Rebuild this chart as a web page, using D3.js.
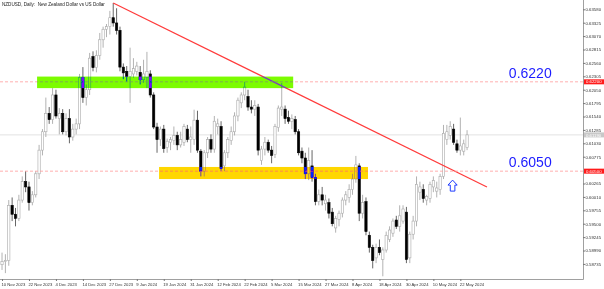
<!DOCTYPE html>
<html>
<head>
<meta charset="utf-8">
<script src="https://cdnjs.cloudflare.com/ajax/libs/d3/7.8.5/d3.min.js"></script>
<style>
  html, body { margin: 0; padding: 0; background: #fff; }
  svg { display: block; }
</style>
</head>
<body>
<svg id="chart" width="604" height="289"></svg>
<script>
// daily bars, NZDUSD
var dates = [
  "2023-11-10","2023-11-13","2023-11-14","2023-11-15","2023-11-16","2023-11-17","2023-11-20","2023-11-21","2023-11-22","2023-11-23",
  "2023-11-24","2023-11-27","2023-11-28","2023-11-29","2023-11-30","2023-12-01","2023-12-04","2023-12-05","2023-12-06","2023-12-07",
  "2023-12-08","2023-12-11","2023-12-12","2023-12-13","2023-12-14","2023-12-15","2023-12-18","2023-12-19","2023-12-20","2023-12-21",
  "2023-12-22","2023-12-26","2023-12-27","2023-12-28","2023-12-29","2024-01-02","2024-01-03","2024-01-04","2024-01-05","2024-01-08",
  "2024-01-09","2024-01-10","2024-01-11","2024-01-12","2024-01-15","2024-01-16","2024-01-17","2024-01-18","2024-01-19","2024-01-22",
  "2024-01-23","2024-01-24","2024-01-25","2024-01-26","2024-01-29","2024-01-30","2024-01-31","2024-02-01","2024-02-02","2024-02-05",
  "2024-02-06","2024-02-07","2024-02-08","2024-02-09","2024-02-12","2024-02-13","2024-02-14","2024-02-15","2024-02-16","2024-02-19",
  "2024-02-20","2024-02-21","2024-02-22","2024-02-23","2024-02-26","2024-02-27","2024-02-28","2024-02-29","2024-03-01","2024-03-04",
  "2024-03-05","2024-03-06","2024-03-07","2024-03-08","2024-03-11","2024-03-12","2024-03-13","2024-03-14","2024-03-15","2024-03-18",
  "2024-03-19","2024-03-20","2024-03-21","2024-03-22","2024-03-25","2024-03-26","2024-03-27","2024-03-28","2024-03-29","2024-04-01",
  "2024-04-02","2024-04-03","2024-04-04","2024-04-05","2024-04-08","2024-04-09","2024-04-10","2024-04-11","2024-04-12","2024-04-15",
  "2024-04-16","2024-04-17","2024-04-18","2024-04-19","2024-04-22","2024-04-23","2024-04-24","2024-04-25","2024-04-26","2024-04-29",
  "2024-04-30","2024-05-01","2024-05-02","2024-05-03","2024-05-06","2024-05-07","2024-05-08","2024-05-09","2024-05-10","2024-05-13",
  "2024-05-14","2024-05-15","2024-05-16","2024-05-17","2024-05-20","2024-05-21","2024-05-22","2024-05-23","2024-05-24"
];

var open = [
  .5872,.5878,.5880,.5985,.5968,.5960,.5995,.6030,.6020,.5990,
  .6005,.6045,.6090,.6125,.6160,.6148,.6195,.6150,.6160,.6125,
  .6150,.6115,.6130,.6140,.6228,.6190,.6205,.6268,.6247,.6270,
  .6300,.6320,.6325,.6342,.6332,.6318,.6248,.6240,.6230,.6235,
  .6240,.6238,.6224,.6228,.6235,.6195,.6134,.6110,.6130,.6095,
  .6105,.6108,.6118,.6100,.6105,.6130,.6110,.6110,.6147,.6088,
  .6050,.6085,.6110,.6092,.6135,.6135,.6060,.6085,.6108,.6125,
  .6155,.6180,.6195,.6192,.6172,.6168,.6172,.6070,.6092,.6105,
  .6090,.6082,.6133,.6168,.6168,.6152,.6145,.6148,.6125,.6088,
  .6075,.6045,.6060,.6038,.5992,.6005,.5988,.5990,.5972,.5942,
  .5958,.5970,.5995,.6000,.6015,.6035,.6060,.5970,.5992,.5928,
  .5905,.5885,.5905,.5882,.5900,.5920,.5932,.5957,.5945,.5955,
  .5972,.5885,.5930,.5955,.6010,.6015,.5995,.5998,.6020,.6012,
  .6015,.6040,.6110,.6118,.6130,.6102,.6090,.6088,.6095
];
var high = [
  .5895,.5892,.5995,.6000,.5980,.6005,.6040,.6050,.6030,.6012,
  .6050,.6100,.6130,.6190,.6172,.6208,.6205,.6170,.6168,.6160,
  .6168,.6140,.6150,.6235,.6248,.6215,.6275,.6278,.6280,.6313,
  .6325,.6330,.6355,.6370,.6360,.6325,.6255,.6250,.6285,.6265,
  .6258,.6250,.6262,.6277,.6242,.6200,.6142,.6135,.6138,.6112,
  .6115,.6135,.6125,.6125,.6140,.6138,.6135,.6167,.6165,.6092,
  .6090,.6115,.6120,.6155,.6150,.6145,.6090,.6115,.6135,.6162,
  .6190,.6200,.6220,.6205,.6185,.6185,.6178,.6098,.6115,.6110,
  .6098,.6140,.6175,.6218,.6175,.6165,.6158,.6155,.6130,.6095,
  .6085,.6095,.6090,.6045,.6015,.6020,.6005,.5998,.5980,.5965,
  .5975,.6000,.6012,.6025,.6045,.6079,.6065,.6005,.6000,.5935,
  .5910,.5912,.5920,.5905,.5935,.5945,.5960,.5965,.5985,.5985,
  .5982,.5935,.5965,.6040,.6030,.6025,.6005,.6030,.6040,.6030,
  .6045,.6138,.6138,.6145,.6140,.6110,.6152,.6110,.6128
];
var low = [
  .5862,.5856,.5870,.5955,.5945,.5955,.5990,.6010,.5975,.5985,
  .6000,.6035,.6080,.6115,.6140,.6140,.6150,.6120,.6120,.6118,
  .6103,.6108,.6120,.6130,.6180,.6175,.6195,.6240,.6238,.6262,
  .6285,.6305,.6310,.6325,.6310,.6240,.6225,.6220,.6180,.6228,
  .6232,.6215,.6218,.6208,.6190,.6130,.6085,.6098,.6085,.6085,
  .6090,.6100,.6090,.6095,.6098,.6105,.6085,.6100,.6085,.6040,
  .6040,.6075,.6085,.6085,.6120,.6050,.6050,.6075,.6100,.6118,
  .6145,.6170,.6185,.6165,.6160,.6155,.6080,.6062,.6080,.6085,
  .6065,.6075,.6125,.6155,.6140,.6140,.6130,.6120,.6080,.6065,
  .6035,.6033,.6030,.5985,.5985,.5985,.5975,.5960,.5945,.5933,
  .5945,.5962,.5985,.5990,.6005,.6028,.5955,.5960,.5928,.5895,
  .5865,.5875,.5890,.5850,.5895,.5915,.5925,.5940,.5935,.5950,
  .5875,.5875,.5920,.5945,.5995,.5990,.5985,.5990,.6010,.6000,
  .6005,.6035,.6100,.6110,.6100,.6085,.6080,.6080,.6090
];
var close = [
  .5878,.5880,.5985,.5968,.5960,.5995,.6030,.6020,.5990,.6005,
  .6045,.6090,.6125,.6160,.6148,.6195,.6155,.6160,.6125,.6150,
  .6115,.6130,.6140,.6228,.6190,.6205,.6265,.6247,.6270,.6300,
  .6320,.6325,.6342,.6332,.6318,.6248,.6237,.6230,.6240,.6245,
  .6250,.6224,.6235,.6240,.6195,.6134,.6110,.6130,.6093,.6107,
  .6110,.6118,.6100,.6110,.6135,.6110,.6115,.6147,.6090,.6050,
  .6085,.6110,.6092,.6145,.6140,.6055,.6085,.6110,.6125,.6155,
  .6185,.6195,.6210,.6172,.6168,.6175,.6090,.6092,.6105,.6090,
  .6080,.6135,.6170,.6172,.6150,.6145,.6150,.6125,.6085,.6075,
  .6045,.6070,.6038,.5992,.6005,.5995,.5995,.5970,.5950,.5960,
  .5970,.5995,.6005,.6015,.6035,.6062,.5970,.5990,.5935,.5905,
  .5880,.5905,.5895,.5900,.5928,.5938,.5955,.5945,.5965,.5978,
  .5882,.5930,.5955,.6025,.6020,.5998,.6002,.6025,.6032,.6018,
  .6040,.6122,.6125,.6135,.6105,.6090,.6098,.6102,.6119
];

// price axis
var priceTicks = [0.63580,0.63325,0.63070,0.62815,0.62560,0.62305,0.62050,0.61795,0.61540,0.61285,
                  0.61030,0.60775,0.60265,0.60010,0.59755,0.59500,0.59245,0.58990,0.58735];
var priceDomain = [0.58448, 0.63757];

// time axis
var dateTicks = ["2023-11-10","2023-11-22","2023-12-04","2023-12-14","2023-12-27","2024-01-09","2024-01-19","2024-01-31",
                 "2024-02-12","2024-02-22","2024-03-05","2024-03-15","2024-03-27","2024-04-08","2024-04-18","2024-04-30",
                 "2024-05-10","2024-05-22"];
var dateTickLabels = ["10 Nov 2023","22 Nov 2023","4 Dec 2023","14 Dec 2023","27 Dec 2023","9 Jan 2024","19 Jan 2024","31 Jan 2024",
                      "12 Feb 2024","22 Feb 2024","5 Mar 2024","15 Mar 2024","27 Mar 2024","8 Apr 2024","18 Apr 2024","30 Apr 2024",
                      "10 May 2024","22 May 2024"];

// levels, zones, trendline  (bar index, price)
var levels = [0.6220, 0.6050];
var levelLabels = ["0.6220", "0.6050"];
var zones = [
  {from: 10.4, to: 86.4, top: 0.6230, bottom: 0.6208, fill: "#8303ff"},   // inverse of lawn green
  {from: 46.6, to: 108.6, top: 0.6058, bottom: 0.6035, fill: "#0028ff"}   // inverse of gold
];
var trendStart = [33, 0.6370];
var trendEnd = [143.9, 0.6020];
var arrowAt = [133.7, 0.6033];
var lastPrice = 0.6119;

var svg = d3.select("#chart");
var width = 604, height = 289;
var plotRight = 583, plotBottom = 279;
var font = "Liberation Sans, Arial, sans-serif";

svg.append("rect").attr("width", width).attr("height", height).attr("fill", "#fff");

var x = d3.scaleLinear().domain([-0.6, 172.4]).range([0, plotRight]);
var y = d3.scaleLinear().domain(priceDomain).range([plotBottom, 0]);

var plot = svg.append("g").attr("id", "plot");

// current price line
plot.append("line")
  .attr("x1", 0).attr("x2", plotRight)
  .attr("y1", y(lastPrice)).attr("y2", y(lastPrice))
  .attr("stroke", "#e2e2e2").attr("stroke-width", 1);

// candles
var bars = plot.selectAll("g.bar").data(dates).enter().append("g").attr("class", "bar");

bars.append("line")
  .attr("x1", (d, i) => x(i)).attr("x2", (d, i) => x(i))
  .attr("y1", (d, i) => y(high[i])).attr("y2", (d, i) => y(low[i]))
  .attr("stroke", (d, i) => close[i] >= open[i] ? "#a9a9a9" : "#555")
  .attr("stroke-width", 0.9);

bars.append("rect")
  .attr("x", (d, i) => x(i) - 1.15)
  .attr("width", 2.3)
  .attr("y", (d, i) => y(Math.max(open[i], close[i])))
  .attr("height", (d, i) => Math.max(0.8, Math.abs(y(open[i]) - y(close[i]))))
  .attr("fill", (d, i) => close[i] >= open[i] ? "#fff" : "#000")
  .attr("stroke", (d, i) => close[i] >= open[i] ? "#a9a9a9" : "#000")
  .attr("stroke-width", 0.6);

// trendline
plot.append("line")
  .attr("x1", x(trendStart[0])).attr("y1", y(trendStart[1]))
  .attr("x2", x(trendEnd[0])).attr("y2", y(trendEnd[1]))
  .attr("stroke", "#ff3b3b").attr("stroke-width", 1.2);

// level lines
plot.selectAll("line.level").data(levels).enter().append("line")
  .attr("class", "level")
  .attr("x1", 0).attr("x2", plotRight)
  .attr("y1", d => y(d)).attr("y2", d => y(d))
  .attr("stroke", "#ff9c9c").attr("stroke-width", 0.8)
  .attr("stroke-dasharray", "3,2");

// zones (MT4 draws them xor-like over the candles)
plot.selectAll("rect.zone").data(zones).enter().append("rect")
  .attr("class", "zone")
  .attr("x", d => x(d.from))
  .attr("width", d => x(d.to) - x(d.from))
  .attr("y", d => y(d.top))
  .attr("height", d => y(d.bottom) - y(d.top))
  .attr("fill", d => d.fill)
  .style("mix-blend-mode", "difference");

// arrow
var ax = x(arrowAt[0]), ay = y(arrowAt[1]);
plot.append("path")
  .attr("d", "M" + ax + "," + ay + " l4.6,5 h-2.3 v6 h-4.6 v-6 h-2.3 z")
  .attr("fill", "#fff").attr("stroke", "#1f3cff").attr("stroke-width", 1);

// level annotations
svg.selectAll("text.lvl").data(levels).enter().append("text")
  .attr("class", "lvl")
  .attr("x", x(150.4))
  .attr("y", d => y(d) - 4)
  .text((d, i) => levelLabels[i])
  .style("fill", "#1c1cff")
  .style("font-size", "14px")
  .style("font-family", font);

// price axis
var yAxis = d3.axisRight(y).tickValues(priceTicks).tickSize(2).tickFormat(d3.format(".5f"));
var yGroup = svg.append("g").attr("transform", "translate(" + plotRight + ",0)").call(yAxis);
yGroup.select(".domain").attr("stroke", "#a0a0a0").attr("d", "M0.5,0V" + (plotBottom + 0.5));
yGroup.selectAll(".tick line").attr("stroke", "#777");
yGroup.selectAll(".tick text")
  .attr("x", 2.5)
  .style("font-size", "4.3px")
  .style("font-family", font)
  .style("fill", "#333");

// time axis
var xAxis = d3.axisBottom(x)
  .tickValues(dateTicks.map(d => dates.indexOf(d)))
  .tickSize(2)
  .tickFormat((d, i) => dateTickLabels[i]);
var xGroup = svg.append("g").attr("transform", "translate(0," + plotBottom + ")").call(xAxis);
xGroup.select(".domain").attr("stroke", "#a0a0a0").attr("d", "M0,0.5H" + (plotRight + 0.5));
xGroup.selectAll(".tick line").attr("stroke", "#777");
xGroup.selectAll(".tick text")
  .attr("y", 4)
  .attr("x", -1)
  .style("text-anchor", "start")
  .style("font-size", "4.2px")
  .style("font-family", font)
  .style("fill", "#333");

// price tags on the axis
var tags = levels.map(d => ({v: d, bg: "#ff1a1a", fg: "#fff"}));
tags.push({v: lastPrice, bg: "#c8c8c8", fg: "#fff"});
var tag = svg.selectAll("g.tag").data(tags).enter().append("g").attr("class", "tag")
  .attr("transform", d => "translate(" + (plotRight + 1) + "," + y(d.v) + ")");
tag.append("rect").attr("x", 0).attr("y", -2.5).attr("width", 20).attr("height", 5).attr("fill", d => d.bg);
tag.append("text").attr("x", 2).attr("y", 1.6)
  .text(d => d3.format(".5f")(d.v))
  .style("fill", d => d.fg)
  .style("font-size", "4.3px")
  .style("font-family", font);

// title
svg.append("text")
  .text("NZDUSD, Daily:  New Zealand Dollar vs US Dollar")
  .attr("x", 2).attr("y", 6)
  .style("fill", "#222")
  .style("font-size", "4.6px")
  .style("font-family", font)
  .style("white-space", "pre");
</script>
</body>
</html>
